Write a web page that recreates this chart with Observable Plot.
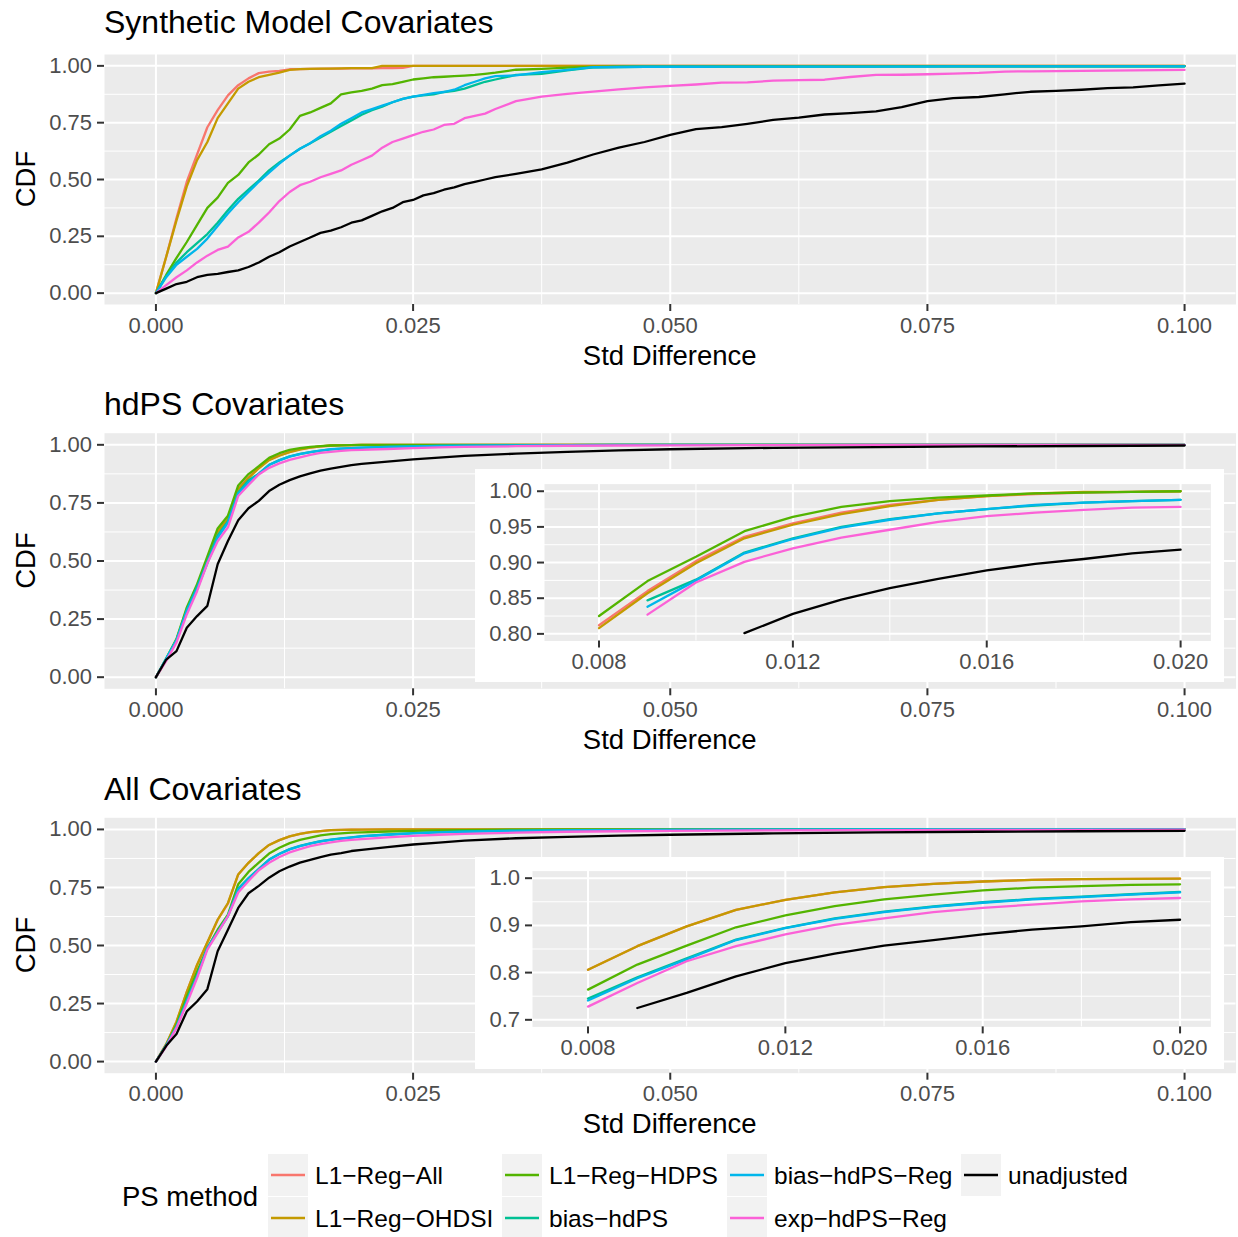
<!DOCTYPE html>
<html><head><meta charset="utf-8">
<script src="https://cdn.jsdelivr.net/npm/d3@7"></script>
<script src="https://cdn.jsdelivr.net/npm/@observablehq/plot@0.6"></script>
<style>
body{margin:0;background:#fff;}
#root{position:relative;width:1238px;height:1237px;overflow:hidden;background:#fff;}
#root svg{display:block;}
</style></head><body><div id="root"></div>
<script>
// ---------- categories ----------
const methods = ["L1\u2212Reg\u2212All","L1\u2212Reg\u2212OHDSI","L1\u2212Reg\u2212HDPS","bias\u2212hdPS","bias\u2212hdPS\u2212Reg","exp\u2212hdPS\u2212Reg","unadjusted"];
const methodColors = ["#F8766D","#C49A00","#53B400","#00C094","#00B6EB","#FB61D7","#000000"];
const panelTitles = ["Synthetic Model Covariates","hdPS Covariates","All Covariates"];
const xTitle = "Std Difference";
const yTitle = "CDF";
const legendTitle = "PS method";

// ---------- tick values ----------
const mainTicksX = [0, 0.025, 0.05, 0.075, 0.1];
const mainMinorX = [0.0125, 0.0375, 0.0625, 0.0875];
const mainTicksY = [0, 0.25, 0.5, 0.75, 1];
const mainMinorY = [0.125, 0.375, 0.625, 0.875];
const insetTicksX = [0.008, 0.012, 0.016, 0.020];
const insetMinorX = [0.010, 0.014, 0.018];
const inset2TicksY = [0.80, 0.85, 0.90, 0.95, 1.00];
const inset2MinorY = [0.825, 0.875, 0.925, 0.975];
const inset3TicksY = [0.7, 0.8, 0.9, 1.0];
const inset3MinorY = [0.75, 0.85, 0.95];
const insetXRange = [0.0075, 0.020];
const inset2MinCdf = 0.8;
const inset3MinCdf = 0.7;

// ---------- panel 1: Synthetic Model Covariates ----------
const x1 = [0,0.001,0.002,0.003,0.004,0.005,0.006,0.007,0.008,0.009,0.010,0.011,0.012,0.013,0.014,0.015,0.016,0.017,0.018,0.019,0.020,0.021,0.022,0.023,0.024,0.025,0.026,0.027,0.028,0.029,0.030,0.031,0.032,0.033,
  0.035,0.0375,0.04,0.0425,0.045,0.0475,0.05,0.0525,0.055,0.0575,0.06,0.0625,0.065,0.0675,0.07,0.0725,0.075,0.0775,0.08,0.0825,0.085,0.0875,0.09,0.0925,0.095,0.0975,0.1];
const synAll = [0,0.16,0.33,0.49,0.61,0.73,0.805,0.87,0.915,0.945,0.968,0.975,0.978,0.985,0.986,0.987,0.987,0.988,0.988,0.989,0.989,0.989,0.99,0.99,0.991,1,1,1,1,1,1,1,1,1,
  1,1,1,1,1,1,1,1,1,1,1,1,1,1,1,1,1,1,1,1,1,1,1,1,1,1,1];
const synOHDSI = [0,0.16,0.32,0.47,0.585,0.665,0.77,0.835,0.90,0.93,0.95,0.96,0.97,0.982,0.986,0.987,0.988,0.988,0.989,0.99,0.99,0.99,1,1,1,1,1,1,1,1,1,1,1,1,
  1,1,1,1,1,1,1,1,1,1,1,1,1,1,1,1,1,1,1,1,1,1,1,1,1,1,1];
const synHDPS = [0,0.08,0.155,0.225,0.30,0.375,0.42,0.485,0.52,0.575,0.61,0.655,0.68,0.72,0.78,0.795,0.815,0.835,0.875,0.883,0.89,0.90,0.915,0.92,0.93,0.94,0.945,0.95,0.952,0.955,0.957,0.96,0.965,0.97,
  0.983,0.987,0.992,0.995,0.996,0.997,0.997,0.997,0.998,0.998,0.998,0.998,0.998,0.998,0.998,0.998,0.998,0.998,0.998,0.998,0.998,0.998,0.998,0.998,0.998,0.998,0.998];
const synBias = [0,0.075,0.135,0.18,0.22,0.26,0.31,0.365,0.415,0.455,0.495,0.54,0.575,0.605,0.635,0.66,0.685,0.71,0.735,0.76,0.785,0.805,0.82,0.84,0.855,0.865,0.87,0.875,0.885,0.89,0.90,0.915,0.93,0.94,
  0.96,0.965,0.98,0.993,0.995,0.996,0.996,0.996,0.997,0.997,0.997,0.997,0.997,0.997,0.997,0.998,0.998,0.998,0.998,0.998,0.998,0.998,0.998,0.998,0.998,0.998,0.998];
const synBiasReg = [0,0.07,0.125,0.16,0.195,0.24,0.295,0.35,0.40,0.445,0.49,0.53,0.57,0.605,0.635,0.66,0.69,0.715,0.745,0.77,0.795,0.81,0.825,0.84,0.855,0.865,0.872,0.88,0.885,0.895,0.915,0.93,0.945,0.955,
  0.958,0.972,0.982,0.994,0.995,0.996,0.996,0.996,0.997,0.997,0.997,0.997,0.997,0.997,0.997,0.997,0.997,0.998,0.998,0.998,0.998,0.998,0.998,0.998,0.998,0.998,0.998];
const synExp = [0,0.035,0.07,0.10,0.135,0.165,0.19,0.205,0.245,0.27,0.31,0.355,0.405,0.445,0.475,0.49,0.51,0.525,0.54,0.565,0.585,0.605,0.64,0.665,0.68,0.695,0.71,0.72,0.74,0.745,0.77,0.78,0.79,0.81,
  0.845,0.865,0.877,0.887,0.897,0.905,0.912,0.918,0.926,0.927,0.935,0.937,0.939,0.951,0.96,0.961,0.963,0.966,0.969,0.975,0.976,0.977,0.978,0.979,0.98,0.981,0.982];
const synUnadj = [0,0.02,0.04,0.05,0.07,0.08,0.085,0.093,0.10,0.115,0.135,0.16,0.18,0.205,0.225,0.245,0.265,0.275,0.29,0.31,0.32,0.34,0.36,0.375,0.40,0.41,0.43,0.44,0.455,0.465,0.48,0.49,0.50,0.51,
  0.525,0.545,0.574,0.61,0.64,0.665,0.696,0.722,0.73,0.745,0.762,0.772,0.786,0.792,0.80,0.818,0.845,0.858,0.863,0.875,0.886,0.89,0.895,0.902,0.905,0.914,0.922];

// ---------- panels 2 and 3 share one x grid ----------
const x23 = [0,0.001,0.002,0.003,0.004,0.005,0.006,0.007,0.008,0.009,0.010,0.011,0.012,0.013,0.014,0.015,0.016,0.017,0.018,0.019,0.020,
  0.0225,0.025,0.0275,0.03,0.035,0.04,0.045,0.05,0.06,0.07,0.08,0.09,0.1];

// panel 2: hdPS Covariates
const hdAll = [0,0.075,0.16,0.29,0.39,0.51,0.625,0.68,0.812,0.86,0.902,0.936,0.955,0.97,0.981,0.988,0.993,0.996,0.998,0.999,1,1,1,1,1,1,1,1,1,1,1,1,1,1];
const hdOHDSI = [0,0.075,0.16,0.29,0.39,0.51,0.625,0.68,0.808,0.857,0.899,0.934,0.953,0.968,0.979,0.988,0.993,0.997,0.999,0.999,1,1,1,1,1,1,1,1,1,1,1,1,1,1];
const hdHDPS = [0,0.08,0.165,0.30,0.40,0.52,0.64,0.695,0.825,0.874,0.908,0.944,0.964,0.978,0.986,0.991,0.994,0.997,0.998,0.999,1,1,1,1,1,1,1,1,1,1,1,1,1,1];
const hdBias = [0,0.08,0.16,0.29,0.39,0.50,0.61,0.67,0.795,0.847,0.876,0.914,0.934,0.95,0.961,0.969,0.975,0.98,0.984,0.986,0.988,0.991,0.993,0.995,0.996,0.998,0.999,1,1,1,1,1,1,1];
const hdBiasReg = [0,0.08,0.16,0.285,0.38,0.49,0.60,0.665,0.79,0.838,0.875,0.913,0.933,0.949,0.96,0.969,0.975,0.981,0.984,0.986,0.988,0.991,0.993,0.995,0.996,0.998,0.999,1,1,1,1,1,1,1];
const hdExp = [0,0.07,0.15,0.27,0.37,0.49,0.585,0.645,0.78,0.827,0.872,0.901,0.92,0.935,0.946,0.957,0.965,0.97,0.974,0.977,0.978,0.982,0.986,0.989,0.991,0.994,0.996,0.997,0.998,0.999,1,1,1,1];
const hdUnadj = [0,0.076,0.112,0.213,0.263,0.307,0.486,0.586,0.675,0.727,0.759,0.801,0.828,0.848,0.864,0.877,0.889,0.898,0.905,0.913,0.918,0.928,0.937,0.945,0.952,0.962,0.97,0.976,0.981,0.987,0.99,0.993,0.995,0.997];

// panel 3: All Covariates
const allAll = [0,0.075,0.17,0.30,0.415,0.512,0.61,0.68,0.806,0.856,0.898,0.933,0.954,0.970,0.981,0.988,0.993,0.9965,0.998,0.9985,0.999,1,1,1,1,1,1,1,1,1,1,1,1,1];
const allOHDSI = [0,0.075,0.173,0.30,0.417,0.514,0.611,0.683,0.806,0.856,0.898,0.933,0.954,0.970,0.981,0.988,0.993,0.9965,0.998,0.9985,0.999,1,1,1,1,1,1,1,1,1,1,1,1,1];
const allHDPS = [0,0.07,0.16,0.28,0.388,0.489,0.568,0.633,0.764,0.817,0.857,0.896,0.921,0.941,0.955,0.965,0.974,0.98,0.983,0.986,0.987,0.991,0.994,0.996,0.997,0.999,1,1,1,1,1,1,1,1];
const allBias = [0,0.07,0.15,0.265,0.37,0.49,0.56,0.628,0.745,0.79,0.83,0.87,0.895,0.915,0.929,0.94,0.949,0.956,0.961,0.966,0.971,0.978,0.984,0.988,0.991,0.995,0.997,0.998,0.999,1,1,1,1,1];
const allBiasReg = [0,0.07,0.15,0.26,0.367,0.489,0.557,0.626,0.741,0.788,0.828,0.869,0.894,0.914,0.928,0.939,0.948,0.955,0.96,0.965,0.970,0.977,0.983,0.987,0.99,0.994,0.996,0.997,0.998,0.999,1,1,1,1];
const allExp = [0,0.065,0.145,0.25,0.36,0.482,0.554,0.626,0.728,0.778,0.824,0.856,0.881,0.901,0.915,0.928,0.937,0.944,0.951,0.955,0.958,0.966,0.972,0.977,0.981,0.986,0.99,0.992,0.994,0.996,0.997,0.998,0.998,0.999];
const allUnadj = [0,0.068,0.119,0.216,0.259,0.312,0.475,0.568,0.662,0.725,0.757,0.792,0.82,0.84,0.857,0.869,0.881,0.891,0.898,0.907,0.912,0.924,0.935,0.943,0.952,0.962,0.968,0.973,0.977,0.983,0.987,0.99,0.992,0.994];

// ---------- build tables ----------
function toRows(xs, seriesList) {
  const rows = [];
  seriesList.forEach((vals, i) => xs.forEach((x, j) => rows.push({x, y: vals[j], method: methods[i]})));
  return rows;
}
const rows1 = toRows(x1, [synAll, synOHDSI, synHDPS, synBias, synBiasReg, synExp, synUnadj]);
const rows2 = toRows(x23, [hdAll, hdOHDSI, hdHDPS, hdBias, hdBiasReg, hdExp, hdUnadj]);
const rows3 = toRows(x23, [allAll, allOHDSI, allHDPS, allBias, allBiasReg, allExp, allUnadj]);

// ---------- drawing ----------
const FONT = '"Liberation Sans", Arial, Helvetica, sans-serif';
const root = document.getElementById("root");
function place(el, left, top) {
  el.style.position = "absolute";
  el.style.left = left + "px";
  el.style.top = top + "px";
  root.appendChild(el);
}
const axisStyle = {tickSize: 7, tickPadding: 5.5, fontSize: 22, fill: "#4D4D4D", stroke: "#333333", strokeWidth: 2, label: null};
const colorScale = {domain: methods, range: methodColors};

function mainPanel(rows, top, height, mt, mb) {
  const p = Plot.plot({
    width: 1238, height, marginLeft: 104, marginRight: 2.5, marginTop: mt, marginBottom: mb,
    x: {domain: [-0.005, 0.105]},
    y: {domain: [-0.05, 1.05]},
    color: colorScale,
    style: {background: "transparent", fontFamily: FONT, overflow: "visible"},
    marks: [
      Plot.frame({fill: "#EBEBEB", stroke: "none"}),
      Plot.ruleX(mainMinorX, {stroke: "#fff", strokeWidth: 1}),
      Plot.ruleY(mainMinorY, {stroke: "#fff", strokeWidth: 1}),
      Plot.ruleX(mainTicksX, {stroke: "#fff", strokeWidth: 2}),
      Plot.ruleY(mainTicksY, {stroke: "#fff", strokeWidth: 2}),
      Plot.line(rows, {x: "x", y: "y", stroke: "method", strokeWidth: 2.3, strokeLinejoin: "round"}),
      Plot.axisX(mainTicksX, {...axisStyle, tickFormat: d3.format(".3f")}),
      Plot.axisY(mainTicksY, {...axisStyle, tickFormat: d3.format(".2f")})
    ]
  });
  place(p, 0, top);
}

function insetPanel(rows, minCdf, yDomain, yTicks, yMinor, yFmt, top, height, ml, mt, mb) {
  const sub = rows.filter(d => d.x >= insetXRange[0] && d.x <= insetXRange[1] && d.y >= minCdf);
  const p = Plot.plot({
    width: 749, height, marginLeft: ml, marginRight: 13.6, marginTop: mt, marginBottom: mb,
    x: {domain: [0.006875, 0.020625]},
    y: {domain: yDomain},
    color: colorScale,
    style: {background: "#ffffff", fontFamily: FONT, overflow: "visible"},
    marks: [
      Plot.frame({fill: "#EBEBEB", stroke: "none"}),
      Plot.ruleX(insetMinorX, {stroke: "#fff", strokeWidth: 1}),
      Plot.ruleY(yMinor, {stroke: "#fff", strokeWidth: 1}),
      Plot.ruleX(insetTicksX, {stroke: "#fff", strokeWidth: 2}),
      Plot.ruleY(yTicks, {stroke: "#fff", strokeWidth: 2}),
      Plot.line(sub, {x: "x", y: "y", stroke: "method", strokeWidth: 2.3, strokeLinejoin: "round"}),
      Plot.axisX(insetTicksX, {...axisStyle, tickFormat: d3.format(".3f")}),
      Plot.axisY(yTicks, {...axisStyle, tickFormat: d3.format(yFmt)})
    ]
  });
  place(p, 475, top);
}

// text overlay (titles, axis titles, legend)
const svg = d3.create("svg").attr("width", 1238).attr("height", 1237).style("font-family", FONT);
place(svg.node(), 0, 0);

const titleBase = [32.7, 415, 800];
const xTitleBase = [365, 749, 1133];
const panelMid = [179, 560.5, 945];
panelTitles.forEach((t, i) => {
  svg.append("text").attr("x", 104).attr("y", titleBase[i]).attr("font-size", 32).attr("fill", "#000").text(t);
  svg.append("text").attr("x", 669.75).attr("y", xTitleBase[i]).attr("text-anchor", "middle").attr("font-size", 27.5).attr("fill", "#000").text(xTitle);
  svg.append("text").attr("transform", `translate(35,${panelMid[i]}) rotate(-90)`).attr("text-anchor", "middle").attr("font-size", 27.5).attr("fill", "#000").text(yTitle);
});

// legend
svg.append("text").attr("x", 122).attr("y", 1206).attr("font-size", 27.5).attr("fill", "#000").text(legendTitle);
const keyX = [268, 502, 727, 961];
const keyTop = [1154, 1197];
methods.forEach((m, i) => {
  const col = Math.floor(i / 2), row = i % 2;
  const kx = keyX[col], ky = keyTop[row];
  svg.append("rect").attr("x", kx).attr("y", ky).attr("width", 40).attr("height", 42).attr("fill", "#F2F2F2");
  svg.append("line").attr("x1", kx + 3).attr("x2", kx + 37).attr("y1", ky + 21).attr("y2", ky + 21)
    .attr("stroke", methodColors[i]).attr("stroke-width", 2.3);
  svg.append("text").attr("x", kx + 47).attr("y", ky + 29.8).attr("font-size", 24.5).attr("fill", "#000").text(m);
});

mainPanel(rows1, 0, 380, 54, 76);
mainPanel(rows2, 380, 380, 52.7, 71.7);
mainPanel(rows3, 765, 380, 52.3, 72.3);
insetPanel(rows2, inset2MinCdf, [0.79, 1.01], inset2TicksY, inset2MinorY, ".2f", 469, 213, 69, 14.6, 41.5);
insetPanel(rows3, inset3MinCdf, [0.685, 1.015], inset3TicksY, inset3MinorY, ".1f", 857, 212, 57, 13.6, 42.6);
</script></body></html>
